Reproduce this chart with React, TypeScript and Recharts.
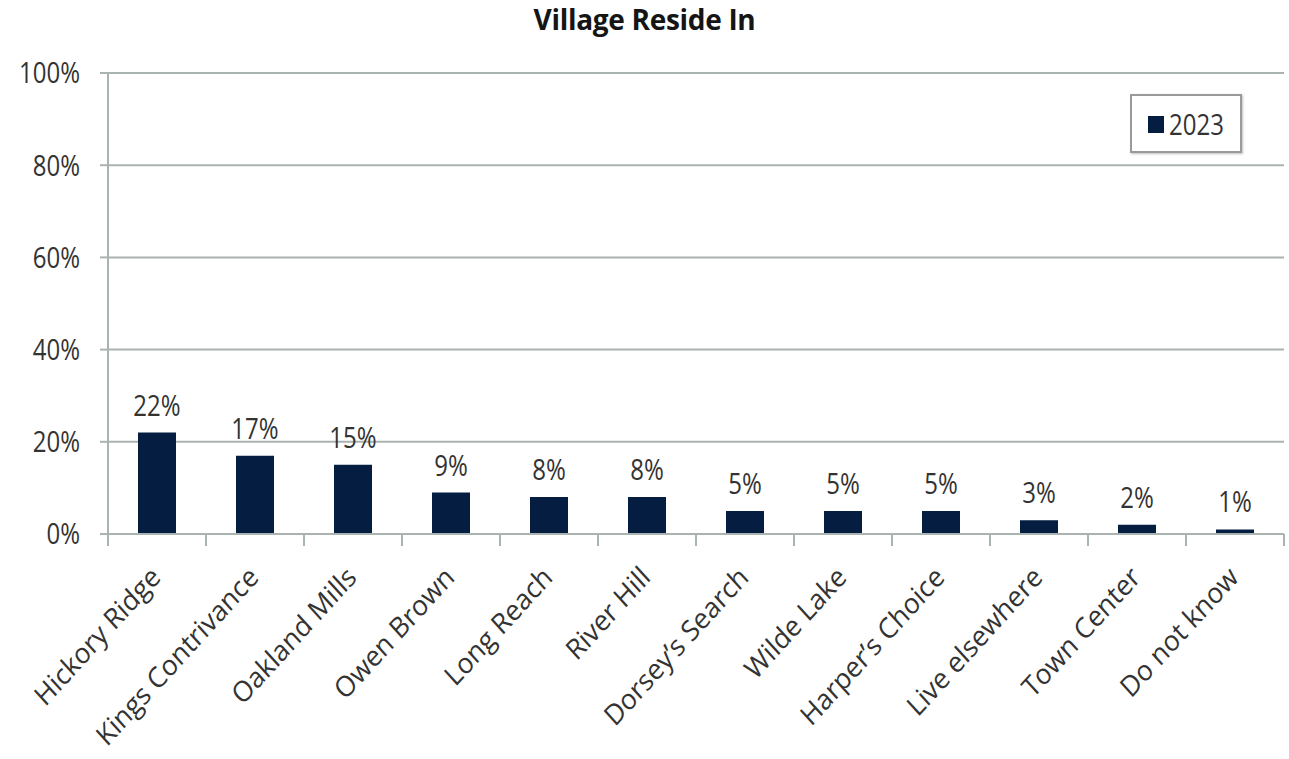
import React from "react";
import {
    BarChart,
    Bar,
    XAxis,
    YAxis,
    CartesianGrid,
    Legend,
    LabelList,
} from "recharts";

const villages = [
    "Hickory Ridge",
    "Kings Contrivance",
    "Oakland Mills",
    "Owen Brown",
    "Long Reach",
    "River Hill",
    "Dorsey’s Search",
    "Wilde Lake",
    "Harper’s Choice",
    "Live elsewhere",
    "Town Center",
    "Do not know",
];
const share2023 = [22, 17, 15, 9, 8, 8, 5, 5, 5, 3, 2, 1];
const yTicks = [0, 20, 40, 60, 80, 100];

const data = villages.map((name, i) => ({ name, v2023: share2023[i] }));

const W = 1289;
const H = 759;
const M = { top: 73, right: 5, bottom: 0, left: 0 };
const Y_W = 108;
const BAND = (W - M.left - M.right - Y_W) / villages.length;

// the source picture is a little stretched vertically, text included
const SY = 1.2;
const FONT = "'Open Sans', sans-serif";
const GRID = "#a9b4b0";
const NAVY = "#061d42";
const INK = "#333";

function VillageTick(props: any) {
    const { x, y, payload, index } = props;
    const last = index === villages.length - 1;
    return (
        <g>
            <line x1={x - BAND / 2} y1={y - 8} x2={x - BAND / 2} y2={y + 4} stroke={GRID} strokeWidth={2} />
            {last && (
                <line x1={x + BAND / 2} y1={y - 8} x2={x + BAND / 2} y2={y + 4} stroke={GRID} strokeWidth={2} />
            )}
            <text
                transform={`translate(${x + 5}, ${y + 37}) scale(1, 1.1) rotate(-45)`}
                textAnchor="end"
                fontSize={26}
                fill={INK}
                fontFamily={FONT}
            >
                {payload.value}
            </text>
        </g>
    );
}

function PctTick(props: any) {
    const { x, y, payload } = props;
    return (
        <text
            transform={`translate(${x}, ${y}) scale(1, ${SY})`}
            dy="0.36em"
            textAnchor="end"
            fontSize={24}
            fill={INK}
            fontFamily={FONT}
        >
            {`${payload.value}%`}
        </text>
    );
}

function BarValue(props: any) {
    const { x, y, width, value } = props;
    return (
        <text
            transform={`translate(${x + width / 2}, ${y - 17}) scale(1, ${SY})`}
            textAnchor="middle"
            fontSize={24}
            fill={INK}
            fontFamily={FONT}
        >
            {`${value}%`}
        </text>
    );
}

function LegendBox() {
    return (
        <div
            style={{
                position: "absolute",
                left: 1130,
                top: 94,
                width: 112,
                height: 59,
                border: "2px solid #9a9a9a",
                boxSizing: "border-box",
                display: "flex",
                alignItems: "center",
                justifyContent: "center",
                fontFamily: FONT,
                fontSize: 24,
                color: INK,
                background: "#fff",
                boxShadow: "1px 1px 2px rgba(0,0,0,0.25)",
            }}
        >
            <span style={{ width: 16, height: 17, background: NAVY, marginRight: 5, marginTop: 2 }} />
            <span style={{ display: "inline-block", transform: `scaleY(${SY})` }}>2023</span>
        </div>
    );
}

export default function App() {
    return (
        <div style={{ position: "absolute", left: 0, top: 0, width: W, height: H, background: "#fff" }}>
            <div
                style={{
                    position: "absolute",
                    top: 0,
                    left: 0,
                    width: W,
                    textAlign: "center",
                    fontFamily: FONT,
                    fontWeight: 700,
                    fontSize: 28,
                    letterSpacing: -0.3,
                    color: "#151515",
                }}
            >
                Village Reside In
            </div>
            <BarChart width={W} height={H} data={data} margin={M}>
                <CartesianGrid vertical={false} stroke={GRID} strokeWidth={2} />
                <XAxis
                    dataKey="name"
                    interval={0}
                    height={225}
                    axisLine={{ stroke: GRID, strokeWidth: 2 }}
                    tickLine={false}
                    tick={<VillageTick />}
                />
                <YAxis
                    width={Y_W}
                    domain={[0, 100]}
                    ticks={yTicks}
                    axisLine={{ stroke: GRID, strokeWidth: 2 }}
                    tickLine={{ stroke: GRID, strokeWidth: 2 }}
                    tickSize={8}
                    tickMargin={20}
                    tick={<PctTick />}
                />
                <Legend
                    content={<LegendBox />}
                    wrapperStyle={{ top: 0, left: 0, width: 0, height: 0, overflow: "visible" }}
                />
                <Bar dataKey="v2023" name="2023" fill={NAVY} barSize={38} isAnimationActive={false}>
                    <LabelList dataKey="v2023" content={<BarValue />} />
                </Bar>
            </BarChart>
        </div>
    );
}
